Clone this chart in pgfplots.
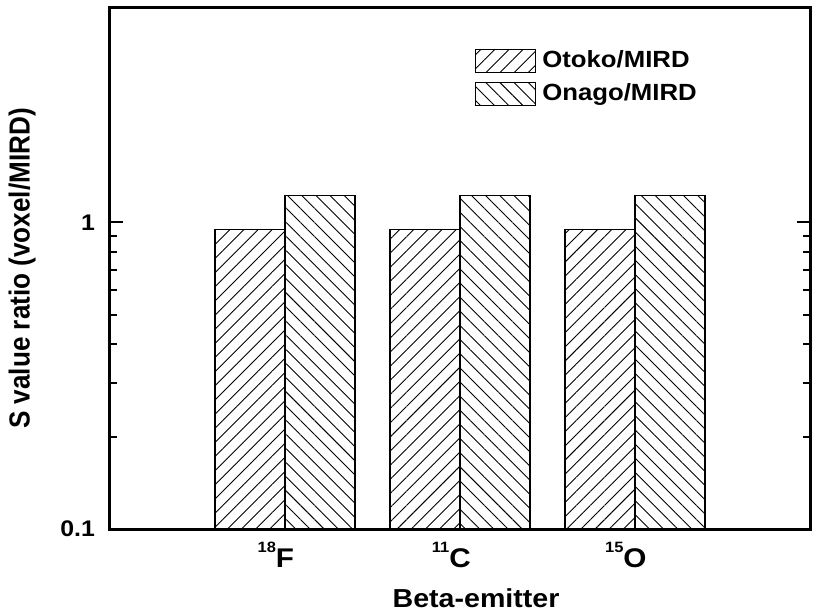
\documentclass[border=0pt]{standalone}
\usepackage{pgfplots}
\pgfplotsset{compat=1.18}
\usepackage{fontspec}
\setmainfont{Liberation Sans}[FakeStretch=1.1]
\newfontfamily\ylabfont{Liberation Sans}[FakeStretch=0.9]
\usetikzlibrary{patterns.meta}
\newcommand\lab[2]{\bfseries\llap{\raisebox{7.5pt}{\fontsize{7.5}{8}\selectfont #1}}#2}
\begin{document}
\begin{tikzpicture}
\begin{axis}[
  name=ax,
  at={(0,0)}, anchor=south west,
  width=350pt, height=260.5pt, scale only axis,
  ymode=log, log origin y=infty,
  ymin=0.1, ymax=5,
  xmin=0, xmax=4,
  ybar,
  bar width=0.4,
  axis line style={line width=1.5pt},
  tick align=inside,
  ytick pos=both,
  ytick={0.1,1},
  yticklabels={\textbf{0.1},\textbf{1}},
  xtick={1,2,3},
  xticklabels={\lab{18}{F},\lab{11}{C},\lab{15}{O}},
  xtick style={draw=none},
  major tick length=6.5pt,
  minor tick length=3.5pt,
  ytick style={line width=1pt, black},
  minor y tick style={line width=1pt, black},
  yticklabel style={font=\bfseries\fontsize{11.3}{13}\selectfont, xshift=-4pt},
  xticklabel style={font=\bfseries\fontsize{13.5}{16}\selectfont, anchor=base, yshift=-19pt},
  xlabel={Beta-emitter},
  ylabel={S value ratio (voxel/MIRD)},
  every axis x label/.style={at={(axis description cs:0.523,-0.132)}, anchor=center, font=\bfseries\fontsize{13}{15}\selectfont},
  every axis y label/.style={at={(axis description cs:-0.1257,0.5)}, anchor=center, rotate=90, font=\ylabfont\bfseries\fontsize{14.5}{16}\selectfont},
  legend image code/.code={\draw[#1] (0pt,-5.75pt) rectangle (30pt,5.75pt);},
  legend style={at={(axis description cs:0.521,0.926)}, anchor=north west, draw=none, fill=none,
    font=\bfseries\fontsize{11.7}{14}\selectfont, row sep=2.5pt, inner sep=0pt,
    nodes={inner sep=2pt}},
  legend cell align=left,
]
\addplot[draw=black, line width=0.6pt, bar shift=-0.2,
  pattern={Lines[angle=45,distance=5pt,line width=0.45pt]}]
  coordinates {(1,0.95) (2,0.95) (3,0.95)};
\addlegendentry{\hspace{1pt}Otoko/MIRD}
\addplot[draw=black, line width=0.6pt, bar shift=0.2,
  pattern={Lines[angle=-45,distance=5pt,line width=0.45pt]}]
  coordinates {(1,1.22) (2,1.22) (3,1.22)};
\addlegendentry{\hspace{1pt}Onago/MIRD}
\end{axis}
\pgfresetboundingbox
\path ([shift={(-55pt,-43pt)}]ax.south west) rectangle ([shift={(4pt,4pt)}]ax.north east);
\end{tikzpicture}
\end{document}
